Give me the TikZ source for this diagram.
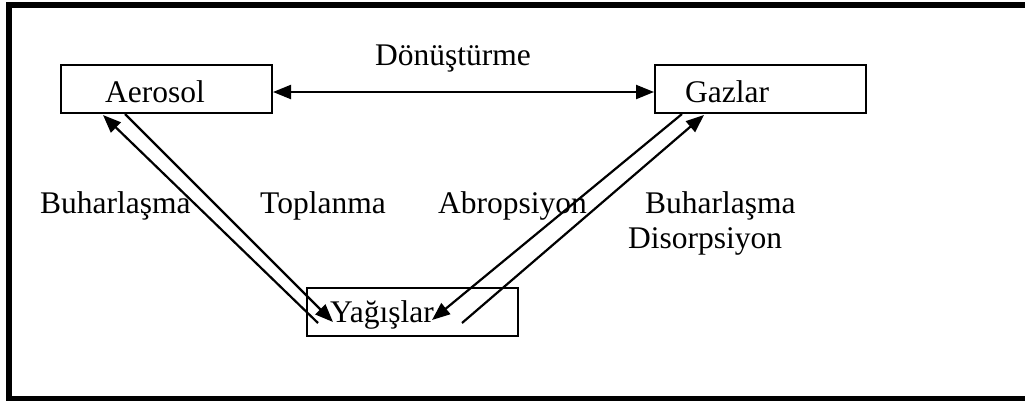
\documentclass[tikz,border=0pt]{standalone}
\usepackage{fontspec}
\setmainfont{Liberation Serif}
\usetikzlibrary{arrows.meta,calc}
\begin{document}
\begin{tikzpicture}[x=1pt,y=-1pt,
  box/.style={draw,line width=2pt,minimum width=211pt,minimum height=48pt,inner sep=0pt,anchor=north west},
  lbl/.style={anchor=base west,inner sep=0pt,font=\fontsize{31.5}{38}\selectfont},
  arr/.style={line width=2.2pt,-{Triangle[length=18pt,width=14pt]}},
  darr/.style={line width=2.2pt,{Triangle[length=18pt,width=14pt]}-{Triangle[length=18pt,width=14pt]}},
  ln/.style={line width=2pt}]
\useasboundingbox (0,0) rectangle (1025,400);
\begin{scope}
  \clip (0,0) rectangle (1025,400);
  \draw[line width=6pt] (9,5) rectangle (1040,399);
\end{scope}
% boxes
\node[box] (aer) at (60,64) {};
\node[box] (gaz) at (654,64) {};
\node[box] (yag) at (306,287) {};
% box texts
\node[lbl] (aert) at (105,102) {Aerosol};
\node[lbl] (gazt) at (685,102) {Gazlar};
\node[lbl] (yagt) at (330,322) {Yağışlar};
% labels
\node[lbl] (donus) at (375,65) {Dönüştürme};
\node[lbl] (buh1) at (40,213) {Buharlaşma};
\node[lbl] (topl) at (260,213) {Toplanma};
\node[lbl] (abro) at (438,213) {Abropsiyon};
\node[lbl] (buh2) at (645,213) {Buharlaşma};
\node[lbl] (diso) at (628,248) {Disorpsiyon};
% connector ends inside Yagislar
\coordinate (p1) at (318,323);
\coordinate (p2) at (333,322);
\coordinate (p3) at (432,320);
\coordinate (p4) at (462,323);
% connectors
\draw[darr] ($(aer.east)+(0,3)$) -- ($(gaz.west)+(0,3)$);
\draw[arr] (p1) -- ($(aer.south west)+(43,1)$);
\draw[arr] ($(aer.south west)+(65,0)$) -- (p2);
\draw[arr] ($(gaz.south west)+(28,0)$) -- (p3);
\draw[arr] (p4) -- ($(gaz.south west)+(50,1)$);
\end{tikzpicture}
\end{document}
